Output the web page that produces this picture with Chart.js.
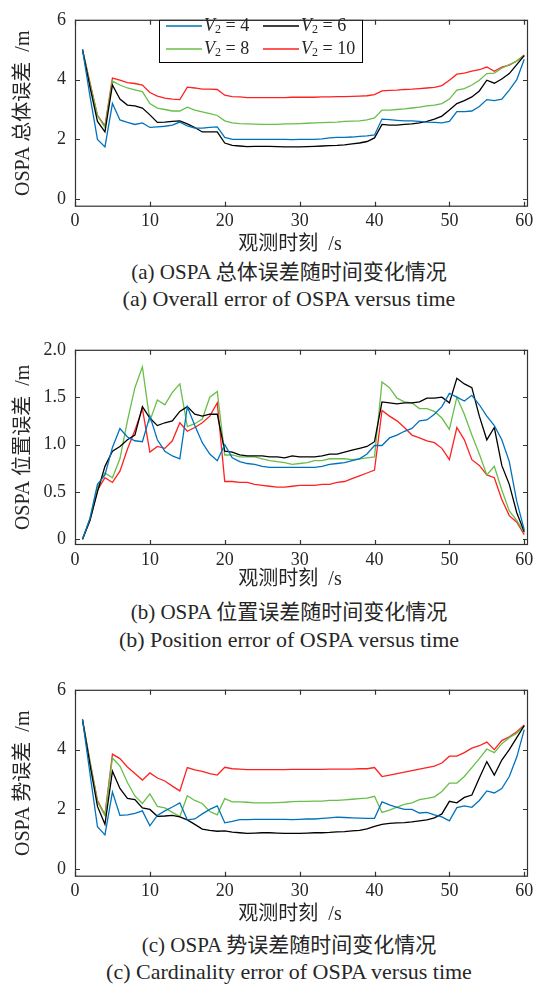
<!DOCTYPE html>
<html>
<head>
<meta charset="utf-8">
<title>OSPA 误差随时间变化</title>
<script src="https://cdn.jsdelivr.net/npm/chart.js"></script>
<style>
  body { margin: 0; background: #fff; width: 542px; height: 985px; position: relative; overflow: hidden;
         font-family: "Liberation Serif", "Noto Sans CJK SC", serif; color: #262626; }
  canvas { position: absolute; left: 0; }
  .cap { position: absolute; left: 0; width: 578px; height: 24px; line-height: 24px; text-align: center;
         font-size: 21px; white-space: nowrap; }
  .en { font-size: 22px; }
</style>
</head>
<body>
<canvas id="c1"></canvas>
<div class="cap" style="top:260px">(a) OSPA 总体误差随时间变化情况</div>
<div class="cap en" style="top:287px">(a) Overall error of OSPA versus time</div>
<canvas id="c2"></canvas>
<div class="cap" style="top:600px">(b) OSPA 位置误差随时间变化情况</div>
<div class="cap en" style="top:628px">(b) Position error of OSPA versus time</div>
<canvas id="c3"></canvas>
<div class="cap" style="top:933px">(c) OSPA 势误差随时间变化情况</div>
<div class="cap en" style="top:960px">(c) Cardinality error of OSPA versus time</div>
<script>
// time steps (s)
const time = [1,2,3,4,5,6,7,8,9,10,11,12,13,14,15,16,17,18,19,20,21,22,23,24,25,26,27,28,29,30,
  31,32,33,34,35,36,37,38,39,40,41,42,43,44,45,46,47,48,49,50,51,52,53,54,55,56,57,58,59,60];
const speeds = [4, 6, 8, 10];
const xTicks = [0, 10, 20, 30, 40, 50, 60];

// overall OSPA error
const total4 = [5.0,3.45,2.0,1.75,3.2,2.65,2.57,2.5,2.55,2.4,2.42,2.44,2.48,2.58,2.45,2.38,2.38,2.4,2.42,2.07,
  2.0,2.0,2.0,2.0,2.0,2.0,2.0,2.0,1.99,2.0,2.0,2.0,2.02,2.05,2.07,2.07,2.08,2.1,2.12,2.15,
  2.68,2.66,2.64,2.62,2.62,2.6,2.58,2.57,2.55,2.6,2.93,2.93,2.95,3.1,3.33,3.3,3.35,3.65,4.0,4.68];
const total6 = [5.0,3.75,2.6,2.25,3.82,3.35,3.15,3.12,3.05,2.82,2.57,2.58,2.6,2.62,2.52,2.4,2.25,2.25,2.25,1.88,
  1.8,1.78,1.76,1.77,1.77,1.77,1.76,1.75,1.75,1.75,1.76,1.77,1.78,1.79,1.8,1.82,1.85,1.88,1.93,2.05,
  2.5,2.48,2.48,2.5,2.52,2.55,2.6,2.68,2.78,2.98,3.2,3.3,3.42,3.62,3.98,3.88,4.02,4.2,4.5,4.8];
const total8 = [5.0,3.85,2.8,2.4,3.95,3.82,3.72,3.66,3.6,3.2,3.05,3.0,2.95,2.95,3.08,2.98,2.92,2.86,2.8,2.62,
  2.55,2.53,2.52,2.51,2.5,2.5,2.5,2.52,2.52,2.53,2.54,2.55,2.56,2.57,2.58,2.6,2.61,2.62,2.65,2.72,
  2.98,2.98,3.0,3.02,3.05,3.08,3.12,3.15,3.2,3.35,3.65,3.7,3.82,3.98,4.2,4.22,4.38,4.5,4.62,4.8];
const total10 = [5.0,3.9,2.8,2.45,4.05,3.98,3.9,3.87,3.82,3.57,3.45,3.38,3.35,3.33,3.75,3.72,3.68,3.68,3.67,3.48,
  3.43,3.42,3.4,3.4,3.4,3.4,3.4,3.4,3.41,3.41,3.41,3.41,3.42,3.42,3.43,3.43,3.44,3.45,3.46,3.5,
  3.62,3.64,3.65,3.67,3.68,3.7,3.72,3.74,3.8,3.98,4.18,4.22,4.28,4.33,4.42,4.28,4.42,4.48,4.62,4.82];

// position error
const pos4 = [0,0.22,0.58,0.68,0.97,1.17,1.08,1.04,1.03,1.3,1.05,0.93,0.88,0.85,1.4,1.2,1.02,0.9,0.83,1.0,
  0.86,0.82,0.8,0.79,0.77,0.76,0.76,0.76,0.76,0.76,0.76,0.76,0.77,0.79,0.8,0.81,0.83,0.85,0.9,0.99,
  0.99,1.07,1.1,1.14,1.17,1.25,1.26,1.32,1.4,1.54,1.5,1.46,1.52,1.42,1.3,1.2,1.05,0.82,0.4,0.1];
const pos6 = [0,0.2,0.5,0.77,0.93,0.98,1.05,1.1,1.4,1.28,1.2,1.23,1.25,1.35,1.4,1.32,1.3,1.32,1.32,0.93,
  0.92,0.89,0.88,0.88,0.88,0.87,0.87,0.86,0.88,0.87,0.87,0.87,0.88,0.9,0.9,0.92,0.94,0.96,0.98,1.03,
  1.45,1.44,1.43,1.44,1.44,1.45,1.49,1.49,1.5,1.44,1.7,1.64,1.6,1.3,1.05,1.18,0.78,0.58,0.28,0.08];
const pos8 = [0,0.22,0.55,0.7,0.65,0.85,1.25,1.6,1.82,1.25,1.47,1.42,1.55,1.64,1.19,1.22,1.27,1.5,1.56,0.89,
  0.89,0.87,0.87,0.87,0.85,0.83,0.82,0.81,0.79,0.8,0.81,0.83,0.83,0.85,0.85,0.85,0.84,0.85,0.86,0.87,
  1.66,1.6,1.49,1.45,1.44,1.38,1.38,1.35,1.28,1.16,1.5,1.32,1.1,0.9,0.68,0.77,0.52,0.3,0.2,0.07];
const pos10 = [0,0.2,0.52,0.65,0.6,0.72,0.95,1.15,1.38,0.92,0.98,0.96,1.04,1.23,1.14,1.18,1.23,1.3,1.44,0.61,
  0.61,0.6,0.6,0.58,0.57,0.56,0.55,0.55,0.56,0.57,0.57,0.57,0.58,0.58,0.6,0.61,0.64,0.67,0.7,0.73,
  1.36,1.3,1.25,1.18,1.1,1.07,1.04,1.02,0.96,0.84,1.18,1.05,0.84,0.78,0.68,0.65,0.42,0.25,0.18,0.05];

// cardinality error
const card4 = [5.0,3.2,1.42,1.15,2.58,1.8,1.82,1.87,1.95,1.45,1.8,1.95,2.08,2.22,1.65,1.68,1.85,2.0,2.12,1.55,
  1.6,1.66,1.66,1.67,1.67,1.67,1.67,1.67,1.66,1.67,1.68,1.68,1.7,1.72,1.74,1.73,1.72,1.71,1.7,1.7,
  2.25,2.15,2.07,2.0,2.0,1.88,1.9,1.82,1.75,1.62,2.06,2.12,2.07,2.3,2.62,2.55,2.7,3.1,3.75,4.67];
const card6 = [5.0,3.5,2.1,1.5,3.28,2.7,2.37,2.33,2.05,2.0,1.77,1.78,1.8,1.75,1.65,1.5,1.34,1.3,1.27,1.28,
  1.24,1.22,1.2,1.21,1.22,1.22,1.21,1.2,1.2,1.2,1.21,1.22,1.22,1.23,1.25,1.26,1.28,1.3,1.35,1.43,
  1.5,1.53,1.55,1.56,1.58,1.62,1.65,1.72,1.85,2.27,2.22,2.4,2.48,3.05,3.6,3.15,3.65,4.0,4.4,4.8];
const card8 = [5.0,3.6,2.25,1.8,3.72,3.45,2.9,2.45,2.2,2.52,2.1,2.05,1.9,1.76,2.46,2.3,2.2,1.93,1.82,2.36,
  2.25,2.25,2.24,2.22,2.22,2.22,2.23,2.24,2.26,2.27,2.27,2.28,2.28,2.3,2.3,2.32,2.34,2.36,2.38,2.44,
  1.9,1.98,2.08,2.17,2.22,2.33,2.37,2.42,2.6,2.88,2.88,3.1,3.4,3.7,4.02,3.9,4.2,4.4,4.55,4.8];
const card10 = [5.0,3.6,2.3,1.82,3.85,3.7,3.42,3.2,2.98,3.22,3.05,2.95,2.78,2.62,3.4,3.32,3.27,3.2,3.15,3.41,
  3.36,3.35,3.33,3.33,3.33,3.33,3.33,3.33,3.34,3.34,3.34,3.34,3.34,3.35,3.35,3.35,3.35,3.36,3.36,3.4,
  3.1,3.15,3.2,3.25,3.3,3.35,3.4,3.45,3.55,3.78,3.78,3.9,4.05,4.13,4.25,4.0,4.3,4.43,4.6,4.82];

const colors = ['#0072BD', '#000000', '#68BE48', '#FF2020'];
const ink = '#262626';
const font = '"Liberation Serif", "Noto Sans CJK SC", serif';

// box with inward ticks, axis titles and the in-plot legend
const frame = {
  id: 'frame',
  afterDatasetsDraw(chart, args, o) {
    const {ctx, chartArea: a, scales: {x, y}} = chart;
    ctx.save();
    ctx.strokeStyle = '#333';
    ctx.lineWidth = 1.2;
    ctx.strokeRect(a.left + 0.5, a.top + 0.5, a.right - a.left - 1, a.bottom - a.top - 1);
    ctx.beginPath();
    x.ticks.forEach(t => {
      const px = Math.round(x.getPixelForValue(t.value)) + 0.5;
      ctx.moveTo(px, a.bottom); ctx.lineTo(px, a.bottom - 5);
      ctx.moveTo(px, a.top); ctx.lineTo(px, a.top + 5);
    });
    y.ticks.forEach(t => {
      const py = Math.round(y.getPixelForValue(t.value)) + 0.5;
      ctx.moveTo(a.left, py); ctx.lineTo(a.left + 5, py);
      ctx.moveTo(a.right, py); ctx.lineTo(a.right - 5, py);
    });
    ctx.stroke();

    ctx.fillStyle = ink;
    ctx.textAlign = 'center';
    ctx.textBaseline = 'middle';
    ctx.font = '20px ' + font;
    ctx.fillText('观测时刻  /s', o.xTitleX, o.xTitleY);
    ctx.save();
    ctx.translate(o.yTitleX, (a.top + a.bottom) / 2);
    ctx.rotate(-Math.PI / 2);
    ctx.fillText(o.yTitle, 0, 0);
    ctx.restore();

    if (o.legend) {
      const L = o.legend;
      ctx.fillStyle = '#fff';
      ctx.fillRect(L.left, a.top, L.right - L.left, L.bottom - a.top);
      ctx.strokeStyle = '#000';
      ctx.lineWidth = 1;
      ctx.strokeRect(L.left + 0.5, a.top + 0.5, L.right - L.left, L.bottom - a.top);
      chart.data.datasets.forEach((ds, i) => {
        const cx = L.cols[i % 2], cy = L.rows[Math.floor(i / 2)];
        ctx.strokeStyle = ds.borderColor;
        ctx.lineWidth = 1.3;
        ctx.beginPath();
        ctx.moveTo(cx, cy); ctx.lineTo(cx + 36, cy);
        ctx.stroke();
        ctx.fillStyle = ink;
        ctx.textAlign = 'left';
        let tx = cx + 38;
        ctx.font = 'italic 18px ' + font;
        ctx.fillText('V', tx, cy);
        tx += ctx.measureText('V').width;
        ctx.font = '12px ' + font;
        ctx.fillText('2', tx, cy + 4);
        tx += ctx.measureText('2').width;
        ctx.font = '18px ' + font;
        ctx.fillText(' = ' + speeds[i], tx, cy);
      });
    }
    ctx.restore();
  }
};

function panel(id, top, height, plotTop, plotBottom, ys, yMin, yMax, yTicks, yLabels, yTitle, xTitleY, legend) {
  const cv = document.getElementById(id);
  cv.style.top = top + 'px';
  cv.width = 542; cv.height = height;
  new Chart(cv, {
    type: 'line',
    data: {
      datasets: ys.map((s, i) => ({
        label: 'V2 = ' + speeds[i],
        data: s.map((v, k) => ({x: time[k], y: v})),
        borderColor: colors[i],
        borderWidth: 1.3,
        pointRadius: 0,
        tension: 0,
        fill: false
      }))
    },
    options: {
      responsive: false,
      animation: false,
      devicePixelRatio: 1,
      layout: {padding: {left: 0, right: 542 - 528, top: plotTop, bottom: 0}},
      plugins: {
        legend: {display: false},
        tooltip: {enabled: false},
        frame: {yTitle, yTitleX: 24, xTitleX: 290, xTitleY, legend}
      },
      scales: {
        x: {
          type: 'linear', min: 0, max: 60.5,
          afterBuildTicks: s => { s.ticks = xTicks.map(v => ({value: v})); },
          afterFit: s => { s.height = height - plotBottom; },
          grid: {display: false, drawTicks: false},
          border: {display: false},
          ticks: {padding: 4, color: ink, font: {family: font, size: 18}, maxRotation: 0}
        },
        y: {
          min: yMin, max: yMax,
          afterBuildTicks: s => { s.ticks = yTicks.map(v => ({value: v})); },
          afterFit: s => { s.width = 75; },
          grid: {display: false, drawTicks: false},
          border: {display: false},
          ticks: {padding: 9, color: ink, font: {family: font, size: 18},
                  callback: (v, i) => yLabels[i]}
        }
      }
    },
    plugins: [frame]
  });
}

panel('c1', 0, 260, 11.7, 206.7, [total4, total6, total8, total10], -0.25, 6,
  [0, 2, 4, 6], ['0', '2', '4', '6'], 'OSPA 总体误差  /m', 245,
  {left: 159, right: 362, bottom: 62, cols: [166, 263], rows: [26, 49]});
panel('c2', 330, 260, 18.3, 215, [pos4, pos6, pos8, pos10], -0.06, 2,
  [0, 0.5, 1, 1.5, 2], ['0', '0.5', '1.0', '1.5', '2.0'], 'OSPA 位置误差  /m', 250, null);
panel('c3', 670, 260, 15, 206.7, [card4, card6, card8, card10], -0.25, 6,
  [0, 2, 4, 6], ['0', '2', '4', '6'], 'OSPA 势误差  /m', 245, null);
</script>
</body>
</html>
